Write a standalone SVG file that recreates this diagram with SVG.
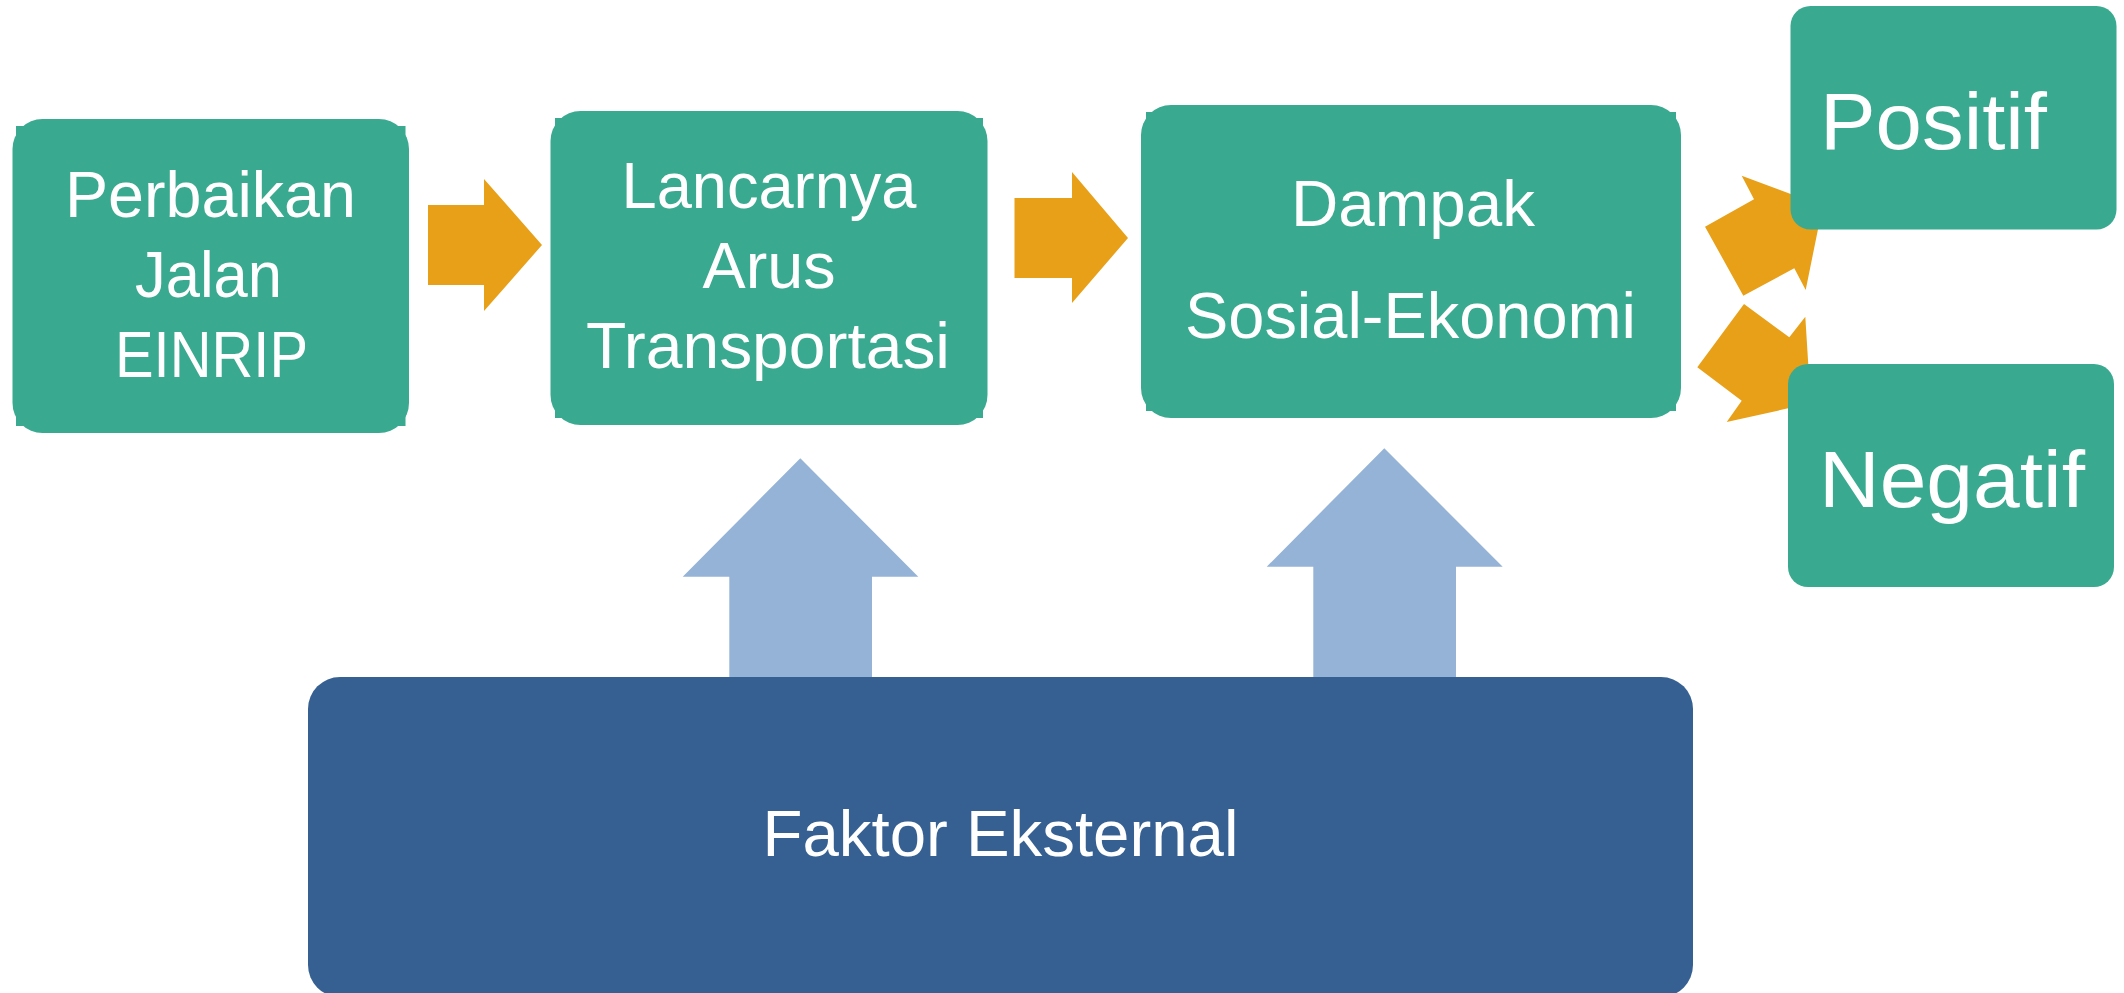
<svg xmlns="http://www.w3.org/2000/svg" width="2124" height="993" viewBox="0 0 2124 993">
<style>
.teal{fill:#39aa90}
.dark{fill:#366092}
.orange{fill:#e8a019}
.blue{fill:#95b3d7}
.t{font-family:"Liberation Sans",Arial,sans-serif;fill:#ffffff;font-size:64px;text-anchor:middle}
.big{font-size:80px;text-anchor:start}
</style>
<rect width="2124" height="993" fill="#ffffff"/>
<g id="connectors">
  <polygon class="orange" points="428,205 484,205 484,179 542,245 484,311 484,285 428,285"/>
  <polygon class="orange" points="1014.5,198 1072,198 1072,172 1128,238 1072,303 1072,278 1014.5,278"/>
  <polygon class="orange" points="1741.7,175.7 1754,199.3 1705,226.7 1743.3,295.7 1794.3,268.3 1805.7,290 1822.7,206"/>
  <polygon class="orange" points="1744,304 1789.3,337.3 1805.3,316.7 1810.7,403.3 1726.7,422 1741.7,400.7 1697.3,367.3"/>
  <polygon class="blue" points="800.3,458.3 918.3,576.7 872,576.7 872,678 729.3,678 729.3,576.7 682.7,576.7"/>
  <polygon class="blue" points="1384.3,448.3 1502.7,566.7 1456,566.7 1456,678 1313.3,678 1313.3,566.7 1266.7,566.7"/>
</g>
<g id="node-perbaikan">
  <rect class="teal" x="12.5" y="119" width="396.5" height="314" rx="30"/>
  <rect class="teal" x="16" y="126" width="10" height="10"/>
  <rect class="teal" x="395.5" y="126" width="10" height="10"/>
  <rect class="teal" x="16" y="416" width="10" height="10"/>
  <rect class="teal" x="395.5" y="416" width="10" height="10"/>
  <text class="t" x="210.5" y="217" textLength="291" lengthAdjust="spacingAndGlyphs">Perbaikan</text>
  <text class="t" x="208.5" y="297" textLength="147" lengthAdjust="spacingAndGlyphs">Jalan</text>
  <text class="t" x="211.5" y="377" textLength="193" lengthAdjust="spacingAndGlyphs">EINRIP</text>
</g>
<g id="node-lancarnya">
  <rect class="teal" x="550.5" y="111" width="437" height="314" rx="30"/>
  <rect class="teal" x="555" y="118" width="10" height="10"/>
  <rect class="teal" x="973" y="118" width="10" height="10"/>
  <rect class="teal" x="555" y="408" width="10" height="10"/>
  <rect class="teal" x="973" y="408" width="10" height="10"/>
  <text class="t" x="769" y="208" textLength="295" lengthAdjust="spacingAndGlyphs">Lancarnya</text>
  <text class="t" x="769" y="288" textLength="133" lengthAdjust="spacingAndGlyphs">Arus</text>
  <text class="t" x="768" y="368" textLength="364" lengthAdjust="spacingAndGlyphs">Transportasi</text>
</g>
<g id="node-dampak">
  <rect class="teal" x="1141" y="105" width="540" height="313" rx="30"/>
  <rect class="teal" x="1146" y="112" width="10" height="10"/>
  <rect class="teal" x="1666" y="112" width="10" height="10"/>
  <rect class="teal" x="1146" y="401" width="10" height="10"/>
  <rect class="teal" x="1666" y="401" width="10" height="10"/>
  <text class="t" x="1413" y="226" textLength="244" lengthAdjust="spacingAndGlyphs">Dampak</text>
  <text class="t" x="1410.5" y="338" textLength="451" lengthAdjust="spacingAndGlyphs">Sosial-Ekonomi</text>
</g>
<g id="node-positif">
  <rect class="teal" x="1790.5" y="6" width="326" height="223.5" rx="20"/>
  <text class="t big" x="1820" y="149" textLength="227" lengthAdjust="spacingAndGlyphs">Positif</text>
</g>
<g id="node-negatif">
  <rect class="teal" x="1788" y="364" width="326" height="223" rx="20"/>
  <text class="t big" x="1819" y="507" textLength="266" lengthAdjust="spacingAndGlyphs">Negatif</text>
</g>
<g id="node-faktor">
  <rect class="dark" x="308" y="677" width="1385" height="320" rx="32"/>
  <text class="t" x="1000.5" y="856" textLength="476" lengthAdjust="spacingAndGlyphs">Faktor Eksternal</text>
</g>
</svg>
